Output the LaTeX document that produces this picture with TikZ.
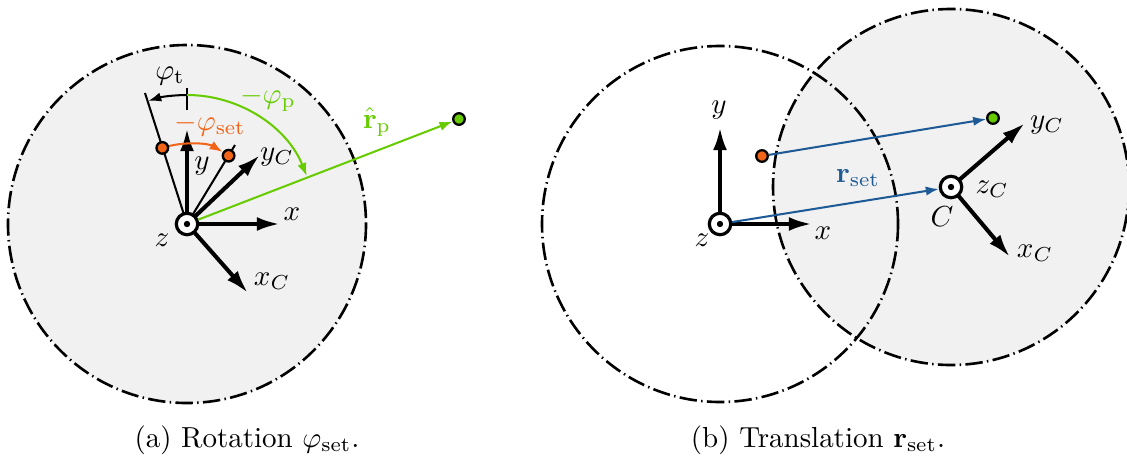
\documentclass[tikz,border=0pt]{standalone}
\usetikzlibrary{arrows.meta}
\definecolor{myorange}{RGB}{242,101,24}
\definecolor{mygreen}{RGB}{102,204,0}
\definecolor{myblue}{RGB}{30,90,150}
\definecolor{myfill}{RGB}{241,241,241}
\begin{document}
\begin{tikzpicture}[x=0.345pt,y=-0.345pt,
  axis/.style={line width=1.4pt,-{Latex[length=8pt,width=4.8pt]}},
  thinline/.style={line width=0.7pt},
  boundary/.style={line width=0.9pt, dash pattern=on 6pt off 1.5pt on 0.5pt off 1.5pt},
  origin/.style={circle, draw, line width=1.1pt, fill=white, minimum size=7.4pt, inner sep=0pt,
    path picture={\fill[black] (path picture bounding box.center) circle[radius=1.1pt];}},
  dot/.style={circle, draw, line width=0.8pt, minimum size=4pt, inner sep=0pt},
  lbl/.style={inner sep=0pt},
  tip/.style={-{Latex[length=4.5pt,width=3.2pt]}},
]
\useasboundingbox (0,0) rectangle (1127,458);

%% ---------------- (a) rotation ----------------
\coordinate (o) at (187,224);
\draw[boundary, fill=myfill] (o) circle[radius=179];

\coordinate (ax) at (280,224);
\coordinate (ay) at (187,128);
\coordinate (ayc) at (260,155);
\coordinate (axc) at (248,293);
\coordinate (tline) at (145,93);
\coordinate (sline) at (235,145);
\coordinate (lc) at (162.3,147.9);
\coordinate (rc) at (228.6,155.7);
\coordinate (top) at (187,95);
\coordinate (ticka) at (187,88);
\coordinate (tickb) at (187,110);
\coordinate (gc) at (459,119);

\draw[thinline] (o) -- (tline);
\draw[thinline] (o) -- (sline);
\draw[thinline] (ticka) -- (tickb);
\draw[axis] (o) -- (ax);
\draw[axis] (o) -- (ay);
\draw[axis] (o) -- (ayc);
\draw[axis] (o) -- (axc);

\draw[thinline, tip] (top) arc[start angle=-90, end angle=-107.5, radius=129];
\draw[thinline, mygreen, tip] (top) arc[start angle=-90, end angle=-21.8, radius=129];
\draw[thinline, myorange, tip, shorten >=2.4pt] (lc) arc[start angle=-108, end angle=-58.7, radius=80];

\node[origin] (O) at (o) {};
\node[dot, fill=myorange] (ldot) at (lc) {};
\node[dot, fill=myorange] (rdot) at (rc) {};
\node[dot, fill=mygreen] (gdot) at (gc) {};
\draw[thinline, mygreen, tip] (O) -- (gdot);

\node[lbl] (lx) at (292,214) {$x$};
\node[lbl] (ly) at (202,166) {$y$};
\node[lbl] (lz) at (162,240) {$z$};
\node[lbl] (lyc) at (277,157) {$y_C$};
\node[lbl] (lxc) at (272,281) {$x_C$};
\node[lbl] (lpt) at (170,76) {$\varphi_\mathrm{t}$};
\node[lbl, text=myorange] (lps) at (210,125) {$-\varphi_\mathrm{set}$};
\node[lbl, text=mygreen] (lpp) at (268,99) {$-\varphi_\mathrm{p}$};
\node[lbl, text=mygreen] (lrp) at (377,122) {$\hat{\mathbf{r}}_\mathrm{p}$};

\node[lbl] (capa) at (247,440) {(a) Rotation $\varphi_\mathrm{set}$.};

%% ---------------- (b) translation ----------------
\coordinate (o2) at (720,224);
\coordinate (c) at (951,187);
\fill[myfill] (c) circle[radius=178];
\draw[boundary] (o2) circle[radius=178];
\draw[boundary] (c) circle[radius=178];

\coordinate (bx) at (812,224);
\coordinate (by) at (720,127);
\coordinate (byc) at (1025,123);
\coordinate (bxc) at (1010,257);
\coordinate (oc2) at (762,156);
\coordinate (gc2) at (993,118);

\draw[axis] (o2) -- (bx);
\draw[axis] (o2) -- (by);
\draw[axis] (c) -- (byc);
\draw[axis] (c) -- (bxc);

\node[origin] (O2) at (o2) {};
\node[origin] (C) at (c) {};
\node[dot, fill=myorange] (odot2) at (oc2) {};
\node[dot, fill=mygreen] (gdot2) at (gc2) {};

\draw[thinline, myblue, tip] (O2) -- (C);
\draw[thinline, myblue, tip] (odot2) -- (gdot2);

\node[lbl] (bly) at (719,110) {$y$};
\node[lbl] (blx) at (823,233) {$x$};
\node[lbl] (blz) at (702,240) {$z$};
\node[lbl] (blC) at (942,217) {$C$};
\node[lbl] (blzc) at (992,189) {$z_C$};
\node[lbl] (blyc) at (1047,125) {$y_C$};
\node[lbl] (blxc) at (1035,253) {$x_C$};
\node[lbl, text=myblue] (lrs) at (858,178) {$\mathbf{r}_\mathrm{set}$};

\node[lbl] (capb) at (818,440) {(b) Translation $\mathbf{r}_\mathrm{set}$.};
\end{tikzpicture}
\end{document}
